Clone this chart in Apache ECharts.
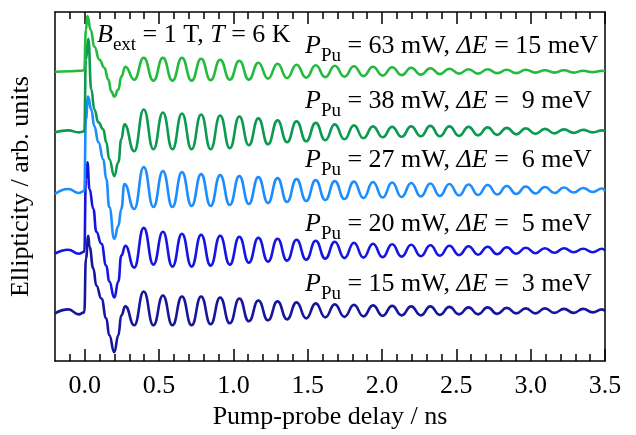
<!DOCTYPE html>
<html>
<head>
<meta charset="utf-8">
<script src="https://cdn.jsdelivr.net/npm/echarts@6/dist/echarts.min.js"></script>
<style>
  html, body { margin: 0; padding: 0; background: #fff; }
  #chart { width: 636px; height: 435px; }
</style>
</head>
<body>
<div id="chart"></div>
<script>
// Time-resolved Kerr ellipticity traces, offset vertically, at B_ext = 1 T, T = 6 K.

// Delay (ns) of the alternating troughs / peaks of the precession, shared by all traces
const delays = [
  0.333, 0.397, 0.462, 0.526, 0.590, 0.654, 0.719, 0.783, 0.847, 0.911,
  0.976, 1.040, 1.104, 1.168, 1.233, 1.297, 1.361, 1.425, 1.490, 1.554,
  1.618, 1.682, 1.747, 1.811, 1.875, 1.939, 2.004, 2.068, 2.132, 2.196,
  2.261, 2.325, 2.389, 2.453, 2.518, 2.582, 2.646, 2.710, 2.775, 2.839,
  2.903, 2.967, 3.032, 3.096, 3.160, 3.224, 3.289, 3.353, 3.417, 3.481, 3.5
];

// Initial part (before and around the pump pulse) as [delay, ellipticity] pairs
const early63 = [[-0.2,2.91],[-0.1,2.915],[-0.03,2.92],[-0.003,2.925],[0.008,3.33],[0.018,3.47],[0.040,3.33],[0.065,3.16],[0.099,3.03],[0.132,2.95],[0.159,2.83],[0.179,2.71],[0.199,2.66],[0.226,2.73],[0.246,2.86],[0.273,2.96]];
const early38 = [[-0.2,2.30],[-0.11,2.32],[-0.04,2.30],[-0.003,2.31],[0.008,3.03],[0.024,3.24],[0.044,2.73],[0.065,2.53],[0.092,2.40],[0.125,2.33],[0.145,2.20],[0.165,2.03],[0.199,1.86],[0.226,2.00],[0.246,2.23],[0.267,2.38]];
const early27 = [[-0.2,1.68],[-0.11,1.73],[-0.04,1.69],[-0.003,1.71],[0.008,2.43],[0.022,2.66],[0.044,2.53],[0.065,2.36],[0.092,2.20],[0.125,2.03],[0.145,1.83],[0.165,1.55],[0.199,1.23],[0.226,1.36],[0.246,1.53],[0.267,1.78]];
const early20 = [[-0.2,1.08],[-0.11,1.12],[-0.04,1.08],[-0.003,1.10],[0.008,1.83],[0.018,2.00],[0.032,1.73],[0.058,1.53],[0.078,1.30],[0.112,1.18],[0.145,0.96],[0.165,0.80],[0.199,0.64],[0.226,0.80],[0.246,1.06],[0.273,1.16]];
const early15 = [[-0.2,0.48],[-0.11,0.52],[-0.04,0.47],[-0.003,0.49],[0.008,1.03],[0.024,1.26],[0.032,1.15],[0.058,0.93],[0.078,0.76],[0.112,0.63],[0.145,0.43],[0.165,0.26],[0.199,0.09],[0.226,0.26],[0.246,0.46],[0.273,0.55]];

// Precession extrema, one value per entry of `delays`
const osc63 = [2.83,3.05,2.82,3.05,2.82,3.05,2.82,3.04,2.825,3.03,2.83,3.02,2.83,3.00,2.84,2.99,2.845,2.98,2.85,2.975,2.855,2.97,2.86,2.965,2.865,2.96,2.87,2.955,2.875,2.95,2.88,2.945,2.885,2.94,2.89,2.935,2.89,2.935,2.895,2.93,2.895,2.93,2.90,2.925,2.90,2.925,2.90,2.92,2.905,2.92,2.91];
const osc38 = [2.11,2.53,2.13,2.50,2.13,2.49,2.13,2.48,2.13,2.47,2.14,2.46,2.17,2.44,2.18,2.42,2.20,2.41,2.21,2.395,2.22,2.38,2.23,2.37,2.24,2.36,2.25,2.355,2.255,2.36,2.26,2.365,2.26,2.36,2.265,2.355,2.27,2.35,2.275,2.345,2.28,2.34,2.285,2.335,2.29,2.33,2.295,2.325,2.30,2.32,2.31];
const osc27 = [1.53,1.95,1.55,1.91,1.55,1.90,1.56,1.88,1.56,1.87,1.57,1.86,1.58,1.85,1.59,1.84,1.60,1.83,1.61,1.82,1.62,1.81,1.63,1.805,1.64,1.80,1.645,1.795,1.65,1.79,1.655,1.785,1.66,1.78,1.665,1.775,1.67,1.77,1.675,1.76,1.68,1.755,1.685,1.75,1.69,1.745,1.695,1.74,1.70,1.735,1.71];
const osc20 = [0.94,1.34,0.97,1.30,0.95,1.28,0.95,1.27,0.96,1.26,0.97,1.25,0.99,1.24,1.00,1.23,1.01,1.22,1.02,1.21,1.03,1.20,1.035,1.19,1.04,1.18,1.045,1.175,1.05,1.17,1.055,1.165,1.06,1.16,1.065,1.155,1.07,1.15,1.075,1.145,1.08,1.14,1.085,1.135,1.09,1.135,1.095,1.13,1.095,1.13,1.11];
const osc15 = [0.36,0.70,0.36,0.66,0.36,0.65,0.36,0.65,0.37,0.64,0.38,0.63,0.40,0.61,0.41,0.60,0.42,0.59,0.43,0.58,0.44,0.57,0.445,0.565,0.45,0.56,0.455,0.555,0.46,0.55,0.46,0.55,0.465,0.545,0.47,0.54,0.47,0.54,0.475,0.535,0.48,0.53,0.48,0.53,0.485,0.525,0.485,0.525,0.49,0.52,0.50];

// Axis ticks and labels
const majorTicks = [0, 0.5, 1.0, 1.5, 2.0, 2.5, 3.0, 3.5];
const minorTicks = [-0.1, 0.1, 0.2, 0.3, 0.4, 0.6, 0.7, 0.8, 0.9, 1.1, 1.2, 1.3, 1.4, 1.6, 1.7, 1.8, 1.9, 2.1, 2.2, 2.3, 2.4, 2.6, 2.7, 2.8, 2.9, 3.1, 3.2, 3.3, 3.4];

const traceNames = ['63 mW', '38 mW', '27 mW', '20 mW', '15 mW'];
const traceColors = ['#22bb3e', '#0b9a50', '#1c8dff', '#1414e4', '#16169c'];
const traceEarly = [early63, early38, early27, early20, early15];
const traceOsc = [osc63, osc38, osc27, osc20, osc15];

const powerLabels = ['63', '38', '27', '20', '15'];
const energyLabels = ['15', ' 9', ' 6', ' 5', ' 3'];
const labelCenters = [46, 101, 160, 224, 284];

function buildTrace(early, osc) {
  return early.concat(osc.map((v, i) => [delays[i], v]));
}

const serif = '"Liberation Serif", "Times New Roman", serif';
const axisColor = '#000';

const rich = {
  n: { fontFamily: serif, fontSize: 26, lineHeight: 30, color: '#000' },
  i: { fontFamily: serif, fontSize: 26, lineHeight: 30, fontStyle: 'italic', color: '#000' },
  s: { fontFamily: serif, fontSize: 19, height: 10, verticalAlign: 'bottom', color: '#000' }
};

const textElements = [{
  type: 'text',
  style: {
    x: 97, y: 35,
    text: '{i|B}{s|ext}{n| = 1 T, }{i|T}{n| = 6 K}',
    rich: rich,
    align: 'left',
    verticalAlign: 'middle'
  }
}];
powerLabels.forEach((p, k) => {
  textElements.push({
    type: 'text',
    style: {
      x: 305, y: labelCenters[k],
      text: '{i|P}{s|Pu}{n| = ' + p + ' mW, }{i|ΔE}{n| = ' + energyLabels[k] + ' meV}',
      rich: rich,
      align: 'left',
      verticalAlign: 'middle'
    }
  });
});

function tickAxis(position, values, len, withLabels, withLine) {
  return {
    type: 'value',
    position: position,
    min: -0.2,
    max: 3.5,
    axisLine: { show: withLine, onZero: false, lineStyle: { color: axisColor, width: 1.5 } },
    axisTick: { show: true, inside: true, length: len, customValues: values, lineStyle: { color: axisColor, width: 1.5 } },
    axisLabel: withLabels ? {
      show: true, customValues: majorTicks, margin: 12,
      fontFamily: serif, fontSize: 26, color: '#000',
      formatter: v => v.toFixed(1)
    } : { show: false },
    splitLine: { show: false }
  };
}

const xAxes = [
  Object.assign(tickAxis('bottom', majorTicks, 12, true, true), {
    name: 'Pump-probe delay / ns',
    nameLocation: 'middle',
    nameGap: 34,
    nameTextStyle: { fontFamily: serif, fontSize: 26, color: '#000' }
  }),
  tickAxis('bottom', minorTicks, 7, false, false),
  tickAxis('top', majorTicks, 12, false, true),
  tickAxis('top', minorTicks, 7, false, false)
];

const chart = echarts.init(document.getElementById('chart'), null, { renderer: 'canvas' });
chart.setOption({
  animation: false,
  backgroundColor: '#fff',
  grid: { left: 54, right: 31, top: 12, bottom: 72, containLabel: false },
  xAxis: xAxes,
  yAxis: [{
    type: 'value',
    position: 'left',
    min: 0,
    max: 3.51,
    name: 'Ellipticity / arb. units',
    nameLocation: 'middle',
    nameGap: 21,
    nameTextStyle: { fontFamily: serif, fontSize: 26, color: '#000' },
    axisLine: { show: true, onZero: false, lineStyle: { color: axisColor, width: 1.5 } },
    axisTick: { show: false },
    axisLabel: { show: false },
    splitLine: { show: false }
  }, {
    type: 'value',
    position: 'right',
    min: 0,
    max: 3.51,
    axisLine: { show: true, onZero: false, lineStyle: { color: axisColor, width: 1.5 } },
    axisTick: { show: false },
    axisLabel: { show: false },
    splitLine: { show: false }
  }],
  series: traceNames.map((name, k) => ({
    name: name,
    type: 'line',
    xAxisIndex: 0,
    yAxisIndex: 0,
    data: buildTrace(traceEarly[k], traceOsc[k]),
    showSymbol: false,
    smooth: true,
    smoothMonotone: 'x',
    lineStyle: { color: traceColors[k], width: 2.6 },
    z: 10 - k
  })),
  graphic: textElements
});
</script>
</body>
</html>
